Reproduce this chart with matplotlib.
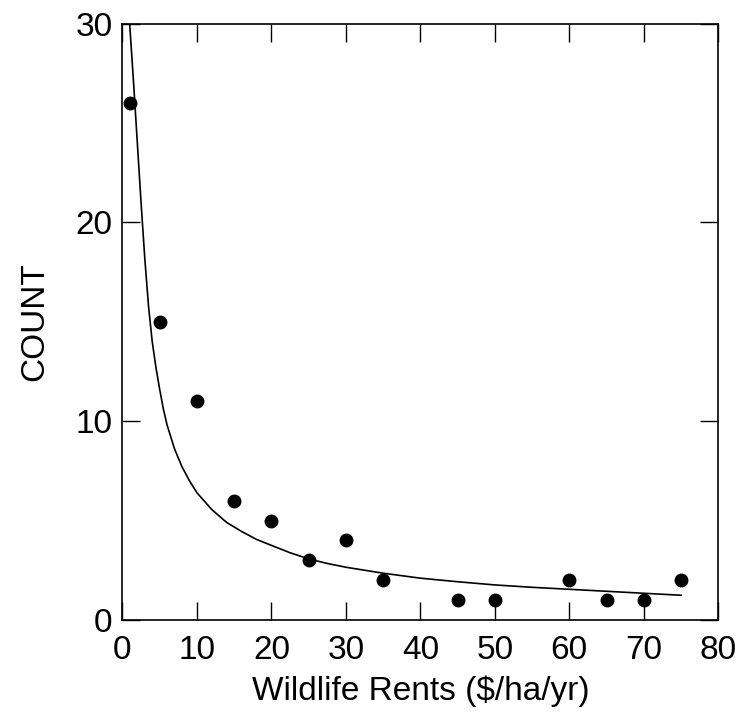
import matplotlib
matplotlib.use("Agg")
import matplotlib.pyplot as plt

plt.rcParams['font.family'] = ['Liberation Sans', 'DejaVu Sans']

# observed counts
rent = [1, 5, 10, 15, 20, 25, 30, 35, 45, 50, 60, 65, 70, 75]
count = [26, 15, 11, 6, 5, 3, 4, 2, 1, 1, 2, 1, 1, 2]

# fitted curve
fit_x = [0.97, 1.5, 2.0, 2.5, 3.0, 3.5, 4.0, 4.5, 5.0, 5.5, 6.0, 7.0, 8.0,
         9.0, 10.0, 12.0, 14.0, 16.0, 18.0, 20.0, 22.5, 25.0, 27.5, 30.0,
         35.0, 40.0, 45.0, 50.0, 55.0, 60.0, 65.0, 70.0, 75.0]
fit_y = [30.0, 27.0, 24.0, 21.0, 18.2, 15.8, 14.0, 12.7, 11.6, 10.6, 9.8,
         8.6, 7.7, 7.0, 6.4, 5.55, 4.9, 4.45, 4.05, 3.75, 3.38, 3.07, 2.84,
         2.65, 2.35, 2.10, 1.92, 1.76, 1.64, 1.54, 1.44, 1.34, 1.24]

fig = plt.figure(figsize=(7.42, 7.15), dpi=100)
ax = fig.add_axes([0.165, 0.133, 0.803, 0.834])

ax.plot(fit_x, fit_y, color='black', lw=1.2)
ax.plot(rent, count, 'o', color='black', ms=9, clip_on=False)

ax.set_xlim(0, 80)
ax.set_ylim(0, 30)
ax.set_xticks(range(0, 81, 10))
ax.set_yticks([0, 10, 20, 30])
ax.tick_params(direction='in', length=13, width=1, labelsize=24,
               top=True, right=True)
ax.tick_params(axis='x', pad=11)
ax.tick_params(axis='y', pad=7)
for s in ax.spines.values():
    s.set_linewidth(1.2)

ax.set_xlabel('Wildlife Rents ($/ha/yr)', fontsize=24, labelpad=7)
ax.set_ylabel('COUNT', fontsize=24, labelpad=18)

fig.savefig('out.png', dpi=100)
